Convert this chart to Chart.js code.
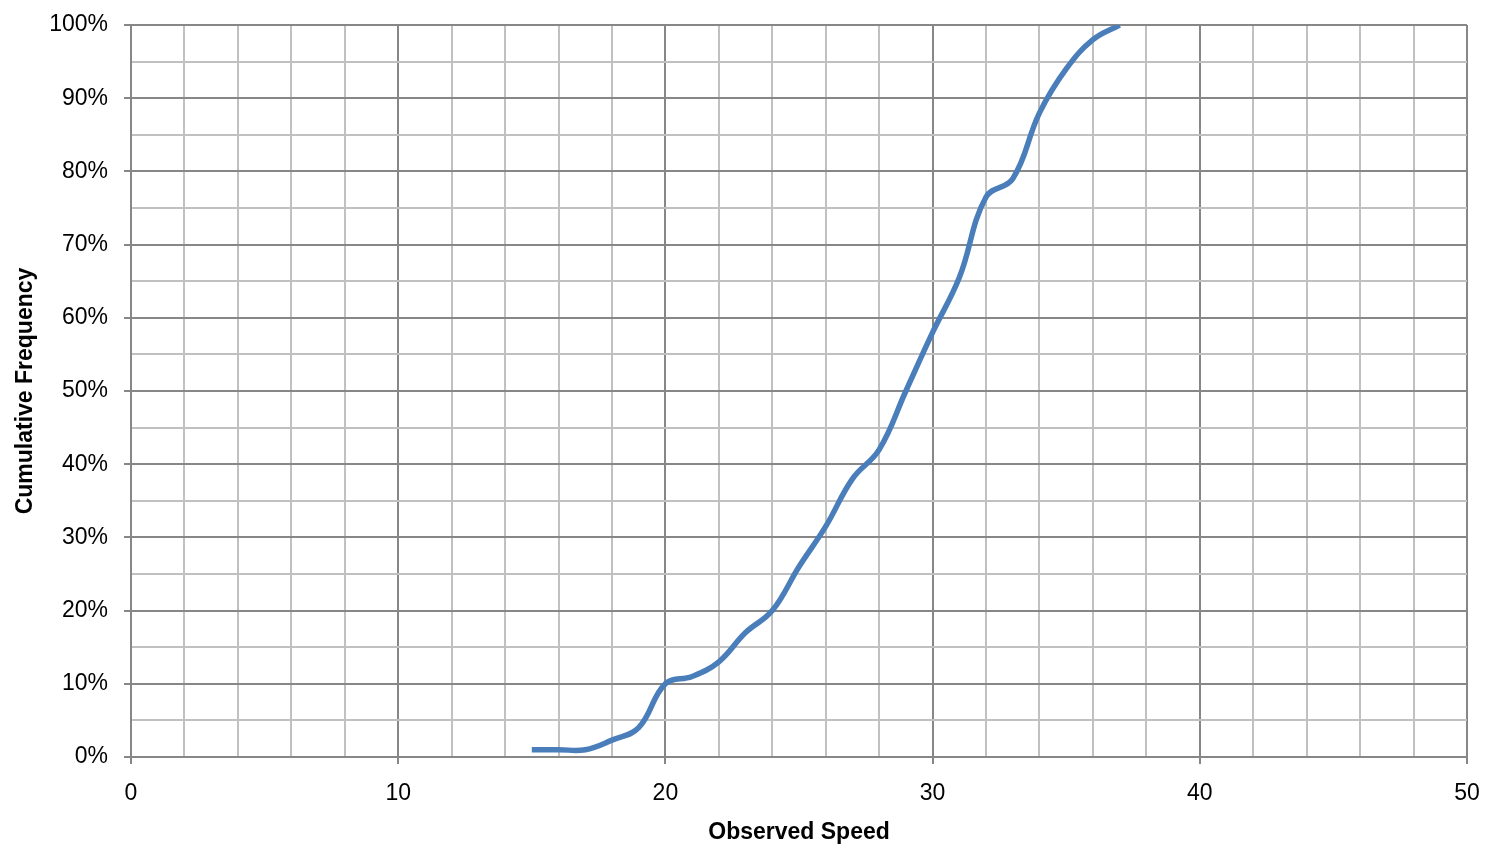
<!DOCTYPE html>
<html>
<head>
<meta charset="utf-8">
<script src="https://cdn.jsdelivr.net/npm/chart.js@4"></script>
<style>
  body { margin: 0; background: #fff; }
</style>
</head>
<body>
<canvas id="speedChart" width="1492" height="854"></canvas>
<script>
// Observed speed vs cumulative frequency (%)
const speeds = [15,16,17,18,19,20,21,22,23,24,25,26,27,28,29,30,31,32,33,34,35,36,37];
const cumFreq = [1,1,1,2.3,4,10,11,13,17,20,26,31.5,38,42,50,58,65.5,76.5,79,88,94,98,100];

const majorGrid = "#878787";
const minorGrid = "#c0c0c0";

Chart.defaults.font.family = "'Liberation Sans', Arial, sans-serif";
Chart.defaults.color = "#000";

new Chart(document.getElementById("speedChart"), {
    type: "line",
    data: {
        datasets: [{
            data: speeds.map((s, i) => ({ x: s, y: cumFreq[i] })),
            borderColor: "#4a7ebb",
            borderWidth: 5.5,
            pointRadius: 0,
            tension: 0.4,
            fill: false
        }]
    },
    options: {
        responsive: false,
        animation: false,
        layout: { padding: { top: 25, right: 25, left: 0, bottom: 0 } },
        plugins: { legend: { display: false }, tooltip: { enabled: false } },
        scales: {
            x: {
                type: "linear",
                min: 0, max: 50,
                ticks: {
                    stepSize: 2,
                    autoSkip: false,
                    maxRotation: 0,
                    padding: 16,
                    font: { size: 23 },
                    callback: v => v % 10 === 0 ? v : ""
                },
                grid: {
                    color: c => c.tick && c.tick.value % 10 === 0 ? majorGrid : minorGrid,
                    tickColor: c => c.tick && c.tick.value % 10 === 0 ? majorGrid : "rgba(0,0,0,0)",
                    lineWidth: 2,
                    tickLength: 7
                },
                border: { color: majorGrid, width: 2 },
                title: {
                    display: true,
                    text: "Observed Speed",
                    font: { size: 23, weight: "bold" },
                    padding: { top: 10, bottom: 8 }
                },
                afterFit: s => { s.height = 97; s.paddingLeft = 0; s.paddingRight = 0; }
            },
            y: {
                min: 0, max: 100,
                ticks: {
                    stepSize: 5,
                    autoSkip: false,
                    padding: 16,
                    font: { size: 23 },
                    callback: v => v % 10 === 0 ? v + "%" : ""
                },
                grid: {
                    color: c => c.tick && c.tick.value % 10 === 0 ? majorGrid : minorGrid,
                    tickColor: c => c.tick && c.tick.value % 10 === 0 ? majorGrid : "rgba(0,0,0,0)",
                    lineWidth: 2,
                    tickLength: 7
                },
                border: { color: majorGrid, width: 2 },
                title: {
                    display: true,
                    text: "Cumulative Frequency",
                    font: { size: 23, weight: "bold" },
                    padding: { top: 12, bottom: 0 }
                },
                afterFit: s => { s.width = 131; s.paddingTop = 0; s.paddingBottom = 0; }
            }
        }
    }
});
</script>
</body>
</html>
